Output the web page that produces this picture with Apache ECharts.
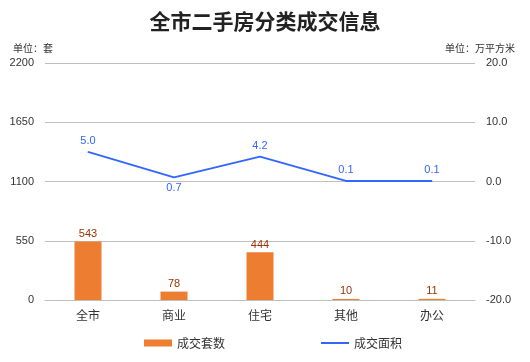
<!DOCTYPE html>
<html><head><meta charset="utf-8">
<script src="https://cdn.jsdelivr.net/npm/echarts@6/dist/echarts.min.js"></script>
<style>html,body{margin:0;padding:0;background:#fff}#c{width:530px;height:362px}</style>
</head><body><div id="c"></div>
<script>
const categories = ['全市', '商业', '住宅', '其他', '办公'];
const dealCounts = [543, 78, 444, 10, 11];
const dealAreas = [5.0, 0.7, 4.2, 0.1, 0.1];
const areaLabelPos = ['top', 'bottom', 'top', 'top', 'top'];
const leftTicks = [0, 550, 1100, 1650, 2200];
const rightTicks = [-20, -10, 0, 10, 20];

const chart = echarts.init(document.getElementById('c'), null, {renderer: 'canvas'});
const font = "SimSun, 'Noto Sans CJK SC', sans-serif";
chart.setOption({
  animation: false,
  title: [
    {text: '全市二手房分类成交信息', left: 'center', top: 6,
     textStyle: {fontSize: 21, fontWeight: 'bold', color: '#222', fontFamily: "'Noto Sans CJK SC', serif"}},
    {text: '单位：套', left: 8, top: 38, textStyle: {fontSize: 10, fontWeight: 'normal', color: '#333', fontFamily: font}},
    {text: '单位：万平方米', right: 10, top: 38, textStyle: {fontSize: 10, fontWeight: 'normal', color: '#333', fontFamily: font}}
  ],
  grid: {left: 45, right: 55, top: 63, bottom: 62},
  legend: {
    left: 139, bottom: 8, itemGap: 95, itemWidth: 28, itemHeight: 7,
    textStyle: {fontSize: 12, color: '#333', fontFamily: font},
    data: [{name: '成交套数', icon: 'rect'},
           {name: '成交面积', itemStyle: {opacity: 0}, lineStyle: {width: 2, color: '#3366FF'}}]
  },
  xAxis: {
    type: 'category', data: categories,
    axisLine: {lineStyle: {color: '#bfbfbf'}},
    axisTick: {show: false},
    axisLabel: {fontSize: 12, color: '#333', margin: 9, fontFamily: font}
  },
  yAxis: [
    {type: 'value', min: leftTicks[0], max: leftTicks[leftTicks.length - 1], interval: 550,
     axisLine: {show: false}, axisTick: {show: false},
     splitLine: {lineStyle: {color: '#bfbfbf'}},
     axisLabel: {fontSize: 11, color: '#333', margin: 11, formatter: v => String(v)}},
    {type: 'value', min: rightTicks[0], max: rightTicks[rightTicks.length - 1], interval: 10,
     axisLine: {show: false}, axisTick: {show: false},
     splitLine: {show: false},
     axisLabel: {fontSize: 11, color: '#333', margin: 11, formatter: v => v.toFixed(1)}}
  ],
  series: [
    {name: '成交套数', type: 'bar', data: dealCounts, barWidth: 27, yAxisIndex: 0,
     itemStyle: {color: '#ED7D31'},
     label: {show: true, position: 'top', distance: 2, color: '#993300', fontSize: 11}},
    {name: '成交面积', type: 'line', yAxisIndex: 1, symbol: 'circle', symbolSize: 1, showSymbol: true,
     data: dealAreas.map((v, i) => ({value: v, label: {show: true, position: areaLabelPos[i]}})),
     lineStyle: {color: '#3366FF', width: 2}, itemStyle: {color: '#3366FF'},
     label: {show: true, distance: 5, color: '#3366FF', fontSize: 11, formatter: p => p.value.toFixed(1)}}
  ]
});
</script></body></html>
